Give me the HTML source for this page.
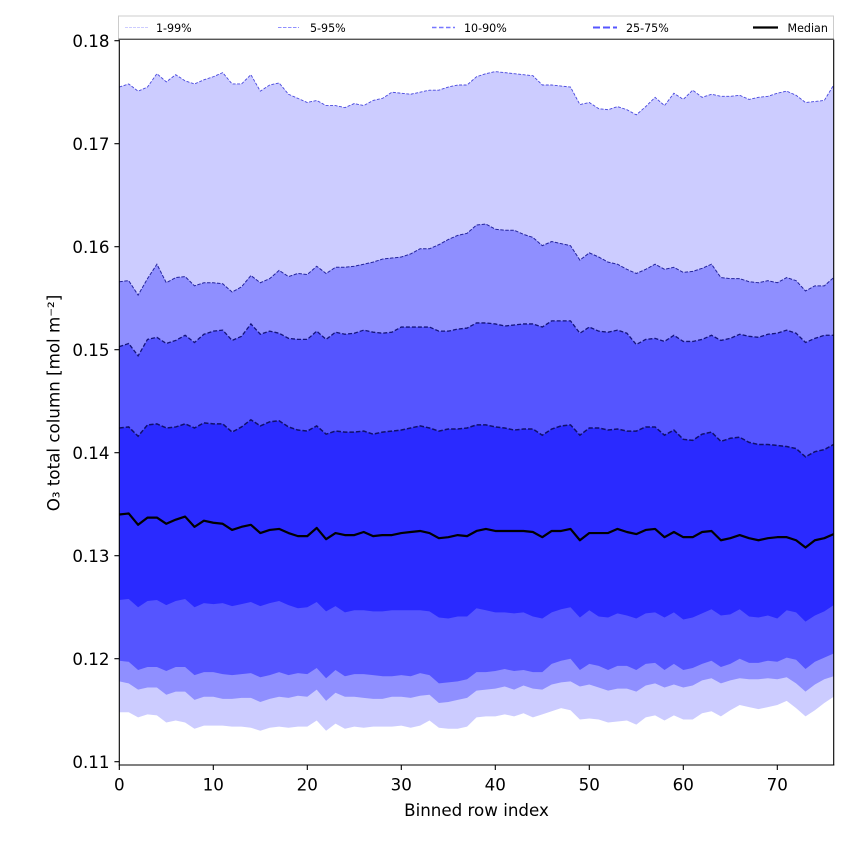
<!DOCTYPE html>
<html><head><meta charset="utf-8"><style>
html,body{margin:0;padding:0;background:#fff}
svg{display:block}
text{font-family:"DejaVu Sans","Liberation Sans",sans-serif;fill:#000}
</style></head><body>
<svg width="850" height="850" viewBox="0 0 850 850" xmlns="http://www.w3.org/2000/svg">
<defs><clipPath id="pa"><rect x="119.3" y="39.6" width="714.4" height="725.4"/></clipPath></defs>
<rect x="0" y="0" width="850" height="850" fill="#fff"/>
<g clip-path="url(#pa)">
<g transform="matrix(9.4,0,0,-1.03,119.3,1894.7)">
<polygon fill="#ccccff" points="0,1000 0,1755 1,1758 2,1751 3,1755 4,1768 5,1760 6,1767 7,1761 8,1758 9,1762 10,1765 11,1769 12,1758 13,1758 14,1767 15,1751 16,1757 17,1759 18,1748 19,1744 20,1740 21,1742 22,1737 23,1737 24,1735 25,1739 26,1737 27,1742 28,1744 29,1750 30,1749 31,1748 32,1750 33,1752 34,1752 35,1755 36,1757 37,1757 38,1765 39,1768 40,1770 41,1769 42,1768 43,1767 44,1766 45,1757 46,1757 47,1756 48,1755 49,1738 50,1740 51,1734 52,1733 53,1736 54,1733 55,1728 56,1736 57,1745 58,1737 59,1749 60,1743 61,1752 62,1745 63,1748 64,1746 65,1746 66,1747 67,1743 68,1745 69,1746 70,1749 71,1751 72,1747 73,1740 74,1741 75,1742 76,1757 76,1000"/>
<polygon fill="#8f8fff" points="0,1000 0,1566 1,1567 2,1553 3,1569 4,1583 5,1565 6,1570 7,1571 8,1562 9,1565 10,1565 11,1564 12,1556 13,1561 14,1572 15,1565 16,1569 17,1577 18,1571 19,1574 20,1573 21,1581 22,1574 23,1580 24,1580 25,1581 26,1583 27,1585 28,1588 29,1589 30,1590 31,1593 32,1598 33,1598 34,1602 35,1607 36,1611 37,1613 38,1621 39,1622 40,1617 41,1616 42,1616 43,1612 44,1609 45,1601 46,1605 47,1603 48,1601 49,1587 50,1594 51,1590 52,1585 53,1583 54,1578 55,1574 56,1578 57,1583 58,1578 59,1580 60,1575 61,1576 62,1579 63,1583 64,1570 65,1569 66,1569 67,1566 68,1565 69,1567 70,1565 71,1570 72,1567 73,1557 74,1562 75,1562 76,1570 76,1000"/>
<polygon fill="#5555ff" points="0,1000 0,1503 1,1506 2,1494 3,1510 4,1512 5,1506 6,1509 7,1514 8,1507 9,1515 10,1518 11,1519 12,1509 13,1513 14,1525 15,1515 16,1518 17,1516 18,1511 19,1510 20,1510 21,1518 22,1510 23,1517 24,1515 25,1516 26,1519 27,1517 28,1516 29,1517 30,1522 31,1522 32,1522 33,1522 34,1518 35,1518 36,1520 37,1521 38,1526 39,1526 40,1525 41,1523 42,1524 43,1525 44,1525 45,1522 46,1528 47,1528 48,1528 49,1516 50,1522 51,1518 52,1517 53,1519 54,1516 55,1505 56,1510 57,1511 58,1508 59,1514 60,1508 61,1508 62,1510 63,1514 64,1509 65,1511 66,1515 67,1513 68,1512 69,1515 70,1516 71,1519 72,1516 73,1507 74,1511 75,1514 76,1514 76,1000"/>
<polygon fill="#2a2aff" points="0,1000 0,1424 1,1425 2,1416 3,1427 4,1428 5,1424 6,1425 7,1428 8,1424 9,1429 10,1428 11,1428 12,1420 13,1425 14,1432 15,1426 16,1430 17,1431 18,1425 19,1422 20,1421 21,1426 22,1418 23,1421 24,1420 25,1420 26,1421 27,1418 28,1420 29,1421 30,1422 31,1424 32,1426 33,1424 34,1421 35,1423 36,1423 37,1424 38,1427 39,1427 40,1425 41,1424 42,1422 43,1423 44,1423 45,1417 46,1423 47,1426 48,1427 49,1417 50,1424 51,1424 52,1422 53,1423 54,1421 55,1421 56,1425 57,1425 58,1417 59,1422 60,1413 61,1412 62,1418 63,1420 64,1411 65,1414 66,1415 67,1410 68,1408 69,1408 70,1407 71,1406 72,1404 73,1396 74,1401 75,1403 76,1408 76,1000"/>
<polygon fill="#5555ff" points="0,1000 0,1257 1,1258 2,1250 3,1256 4,1257 5,1252 6,1256 7,1258 8,1250 9,1254 10,1253 11,1254 12,1251 13,1253 14,1255 15,1251 16,1254 17,1256 18,1252 19,1249 20,1250 21,1255 22,1246 23,1251 24,1245 25,1247 26,1247 27,1246 28,1246 29,1247 30,1247 31,1247 32,1247 33,1246 34,1240 35,1239 36,1241 37,1241 38,1249 39,1247 40,1245 41,1245 42,1244 43,1245 44,1241 45,1239 46,1245 47,1248 48,1250 49,1240 50,1247 51,1241 52,1240 53,1244 54,1242 55,1239 56,1244 57,1245 58,1240 59,1245 60,1238 61,1240 62,1244 63,1248 64,1242 65,1243 66,1248 67,1241 68,1240 69,1242 70,1239 71,1247 72,1245 73,1236 74,1242 75,1246 76,1252 76,1000"/>
<polygon fill="#8f8fff" points="0,1000 0,1198 1,1197 2,1189 3,1192 4,1192 5,1188 6,1192 7,1192 8,1184 9,1187 10,1187 11,1185 12,1184 13,1185 14,1186 15,1182 16,1184 17,1187 18,1184 19,1186 20,1185 21,1191 22,1181 23,1189 24,1183 25,1185 26,1185 27,1184 28,1183 29,1183 30,1184 31,1183 32,1186 33,1184 34,1176 35,1177 36,1178 37,1180 38,1187 39,1187 40,1188 41,1190 42,1188 43,1189 44,1187 45,1187 46,1195 47,1198 48,1200 49,1189 50,1195 51,1193 52,1189 53,1193 54,1193 55,1189 56,1195 57,1196 58,1189 59,1195 60,1189 61,1191 62,1195 63,1198 64,1192 65,1195 66,1200 67,1196 68,1196 69,1198 70,1197 71,1201 72,1199 73,1190 74,1197 75,1201 76,1205 76,1000"/>
<polygon fill="#ccccff" points="0,1000 0,1178 1,1176 2,1170 3,1172 4,1172 5,1165 6,1168 7,1168 8,1160 9,1163 10,1163 11,1161 12,1161 13,1162 14,1162 15,1158 16,1161 17,1163 18,1162 19,1164 20,1163 21,1170 22,1159 23,1167 24,1163 25,1163 26,1162 27,1161 28,1161 29,1163 30,1163 31,1162 32,1164 33,1165 34,1157 35,1158 36,1160 37,1162 38,1169 39,1170 40,1171 41,1173 42,1170 43,1174 44,1171 45,1170 46,1175 47,1177 48,1178 49,1173 50,1175 51,1172 52,1169 53,1171 54,1171 55,1168 56,1174 57,1176 58,1172 59,1175 60,1172 61,1174 62,1179 63,1181 64,1176 65,1179 66,1181 67,1180 68,1180 69,1181 70,1180 71,1182 72,1176 73,1168 74,1175 75,1180 76,1183 76,1000"/>
<polygon fill="#ffffff" points="0,1000 0,1148 1,1148 2,1143 3,1146 4,1145 5,1138 6,1140 7,1138 8,1132 9,1135 10,1135 11,1135 12,1134 13,1134 14,1133 15,1130 16,1133 17,1134 18,1133 19,1134 20,1134 21,1140 22,1130 23,1137 24,1132 25,1134 26,1133 27,1134 28,1134 29,1134 30,1135 31,1133 32,1135 33,1140 34,1133 35,1132 36,1132 37,1134 38,1143 39,1144 40,1144 41,1146 42,1144 43,1147 44,1143 45,1146 46,1149 47,1152 48,1150 49,1141 50,1142 51,1141 52,1138 53,1139 54,1140 55,1136 56,1143 57,1145 58,1140 59,1145 60,1141 61,1141 62,1147 63,1149 64,1144 65,1150 66,1155 67,1153 68,1151 69,1153 70,1155 71,1159 72,1152 73,1144 74,1150 75,1157 76,1163 76,1000"/>

<polyline fill="none" stroke="#4848dd" stroke-width="0.9" stroke-dasharray="3,1.5" vector-effect="non-scaling-stroke" points="0,1755 1,1758 2,1751 3,1755 4,1768 5,1760 6,1767 7,1761 8,1758 9,1762 10,1765 11,1769 12,1758 13,1758 14,1767 15,1751 16,1757 17,1759 18,1748 19,1744 20,1740 21,1742 22,1737 23,1737 24,1735 25,1739 26,1737 27,1742 28,1744 29,1750 30,1749 31,1748 32,1750 33,1752 34,1752 35,1755 36,1757 37,1757 38,1765 39,1768 40,1770 41,1769 42,1768 43,1767 44,1766 45,1757 46,1757 47,1756 48,1755 49,1738 50,1740 51,1734 52,1733 53,1736 54,1733 55,1728 56,1736 57,1745 58,1737 59,1749 60,1743 61,1752 62,1745 63,1748 64,1746 65,1746 66,1747 67,1743 68,1745 69,1746 70,1749 71,1751 72,1747 73,1740 74,1741 75,1742 76,1757"/>
<polyline fill="none" stroke="#24249e" stroke-width="1" stroke-dasharray="3.5,1.5" vector-effect="non-scaling-stroke" points="0,1566 1,1567 2,1553 3,1569 4,1583 5,1565 6,1570 7,1571 8,1562 9,1565 10,1565 11,1564 12,1556 13,1561 14,1572 15,1565 16,1569 17,1577 18,1571 19,1574 20,1573 21,1581 22,1574 23,1580 24,1580 25,1581 26,1583 27,1585 28,1588 29,1589 30,1590 31,1593 32,1598 33,1598 34,1602 35,1607 36,1611 37,1613 38,1621 39,1622 40,1617 41,1616 42,1616 43,1612 44,1609 45,1601 46,1605 47,1603 48,1601 49,1587 50,1594 51,1590 52,1585 53,1583 54,1578 55,1574 56,1578 57,1583 58,1578 59,1580 60,1575 61,1576 62,1579 63,1583 64,1570 65,1569 66,1569 67,1566 68,1565 69,1567 70,1565 71,1570 72,1567 73,1557 74,1562 75,1562 76,1570"/>
<polyline fill="none" stroke="#14147a" stroke-width="1.3" stroke-dasharray="4,2" vector-effect="non-scaling-stroke" points="0,1503 1,1506 2,1494 3,1510 4,1512 5,1506 6,1509 7,1514 8,1507 9,1515 10,1518 11,1519 12,1509 13,1513 14,1525 15,1515 16,1518 17,1516 18,1511 19,1510 20,1510 21,1518 22,1510 23,1517 24,1515 25,1516 26,1519 27,1517 28,1516 29,1517 30,1522 31,1522 32,1522 33,1522 34,1518 35,1518 36,1520 37,1521 38,1526 39,1526 40,1525 41,1523 42,1524 43,1525 44,1525 45,1522 46,1528 47,1528 48,1528 49,1516 50,1522 51,1518 52,1517 53,1519 54,1516 55,1505 56,1510 57,1511 58,1508 59,1514 60,1508 61,1508 62,1510 63,1514 64,1509 65,1511 66,1515 67,1513 68,1512 69,1515 70,1516 71,1519 72,1516 73,1507 74,1511 75,1514 76,1514"/>
<polyline fill="none" stroke="#10106a" stroke-width="1.5" stroke-dasharray="4.5,2" vector-effect="non-scaling-stroke" points="0,1424 1,1425 2,1416 3,1427 4,1428 5,1424 6,1425 7,1428 8,1424 9,1429 10,1428 11,1428 12,1420 13,1425 14,1432 15,1426 16,1430 17,1431 18,1425 19,1422 20,1421 21,1426 22,1418 23,1421 24,1420 25,1420 26,1421 27,1418 28,1420 29,1421 30,1422 31,1424 32,1426 33,1424 34,1421 35,1423 36,1423 37,1424 38,1427 39,1427 40,1425 41,1424 42,1422 43,1423 44,1423 45,1417 46,1423 47,1426 48,1427 49,1417 50,1424 51,1424 52,1422 53,1423 54,1421 55,1421 56,1425 57,1425 58,1417 59,1422 60,1413 61,1412 62,1418 63,1420 64,1411 65,1414 66,1415 67,1410 68,1408 69,1408 70,1407 71,1406 72,1404 73,1396 74,1401 75,1403 76,1408"/>
<polyline fill="none" stroke="#000" stroke-width="2.2" stroke-linejoin="round" vector-effect="non-scaling-stroke" points="0,1340 1,1341 2,1330 3,1337 4,1337 5,1331 6,1335 7,1338 8,1328 9,1334 10,1332 11,1331 12,1325 13,1328 14,1330 15,1322 16,1325 17,1326 18,1322 19,1319 20,1319 21,1327 22,1316 23,1322 24,1320 25,1320 26,1323 27,1319 28,1320 29,1320 30,1322 31,1323 32,1324 33,1322 34,1317 35,1318 36,1320 37,1319 38,1324 39,1326 40,1324 41,1324 42,1324 43,1324 44,1323 45,1318 46,1324 47,1324 48,1326 49,1315 50,1322 51,1322 52,1322 53,1326 54,1323 55,1321 56,1325 57,1326 58,1318 59,1323 60,1318 61,1318 62,1323 63,1324 64,1315 65,1317 66,1320 67,1317 68,1315 69,1317 70,1318 71,1318 72,1315 73,1308 74,1315 75,1317 76,1321"/>
</g>
</g>

<!-- axes spines -->
<g stroke="#000" stroke-width="1.1" fill="none">
<line x1="119.3" y1="39.6" x2="119.3" y2="765.5"/>
<line x1="118.8" y1="765" x2="834.2" y2="765"/>
<line x1="833.7" y1="39.6" x2="833.7" y2="765.5"/>
</g>
<!-- x ticks -->
<g stroke="#000" stroke-width="1.1">
<line x1="119.3" y1="765" x2="119.3" y2="770"/>
<line x1="213.3" y1="765" x2="213.3" y2="770"/>
<line x1="307.3" y1="765" x2="307.3" y2="770"/>
<line x1="401.3" y1="765" x2="401.3" y2="770"/>
<line x1="495.3" y1="765" x2="495.3" y2="770"/>
<line x1="589.3" y1="765" x2="589.3" y2="770"/>
<line x1="683.3" y1="765" x2="683.3" y2="770"/>
<line x1="777.3" y1="765" x2="777.3" y2="770"/>
</g>
<g font-size="16.7" text-anchor="middle">
<text x="119.3" y="790.5">0</text>
<text x="213.3" y="790.5">10</text>
<text x="307.3" y="790.5">20</text>
<text x="401.3" y="790.5">30</text>
<text x="495.3" y="790.5">40</text>
<text x="589.3" y="790.5">50</text>
<text x="683.3" y="790.5">60</text>
<text x="777.3" y="790.5">70</text>
</g>
<!-- y ticks -->
<g stroke="#000" stroke-width="1.1">
<line x1="114.4" y1="761.7" x2="119.3" y2="761.7"/>
<line x1="114.4" y1="658.7" x2="119.3" y2="658.7"/>
<line x1="114.4" y1="555.7" x2="119.3" y2="555.7"/>
<line x1="114.4" y1="452.7" x2="119.3" y2="452.7"/>
<line x1="114.4" y1="349.7" x2="119.3" y2="349.7"/>
<line x1="114.4" y1="246.7" x2="119.3" y2="246.7"/>
<line x1="114.4" y1="143.7" x2="119.3" y2="143.7"/>
<line x1="114.4" y1="40.7" x2="119.3" y2="40.7"/>
</g>
<g font-size="16.7" text-anchor="end">
<text x="109.5" y="768.2">0.11</text>
<text x="109.5" y="665.2">0.12</text>
<text x="109.5" y="562.2">0.13</text>
<text x="109.5" y="459.2">0.14</text>
<text x="109.5" y="356.2">0.15</text>
<text x="109.5" y="253.2">0.16</text>
<text x="109.5" y="150.2">0.17</text>
<text x="109.5" y="47.2">0.18</text>
</g>
<text x="476.5" y="816" font-size="16.7" text-anchor="middle">Binned row index</text>
<text transform="translate(59.5,403) rotate(-90)" font-size="16.7" text-anchor="middle">O₃ total column [mol m⁻²]</text>

<!-- legend -->
<rect x="118.5" y="16" width="715" height="23" fill="#fff" fill-opacity="0.85" stroke="#cccccc" stroke-width="1"/>
<line x1="118.5" y1="39.3" x2="834" y2="39.3" stroke="#555" stroke-width="1.3"/>
<line x1="125" y1="27.5" x2="148" y2="27.5" stroke="#ccccff" stroke-width="1" stroke-dasharray="3,1"/>
<line x1="278" y1="27.5" x2="299" y2="27.5" stroke="#8f8fff" stroke-width="1" stroke-dasharray="3.5,1.5"/>
<line x1="432" y1="27.5" x2="455" y2="27.5" stroke="#7777ff" stroke-width="1.5" stroke-dasharray="4.5,2.5"/>
<line x1="593" y1="27.5" x2="617" y2="27.5" stroke="#5555ff" stroke-width="2" stroke-dasharray="7,3"/>
<line x1="753" y1="27.5" x2="778" y2="27.5" stroke="#000" stroke-width="2.2"/>
<g font-size="11.1">
<text x="156" y="32">1-99%</text>
<text x="310" y="32">5-95%</text>
<text x="464" y="32">10-90%</text>
<text x="626" y="32">25-75%</text>
<text x="787.5" y="32">Median</text>
</g>
</svg>
</body></html>
